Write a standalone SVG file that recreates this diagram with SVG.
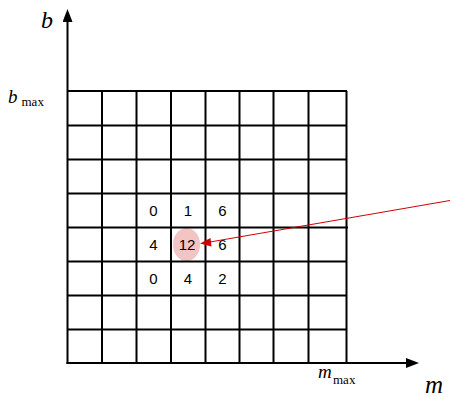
<svg xmlns="http://www.w3.org/2000/svg" width="450" height="397" viewBox="0 0 450 397">
<style>
.grid line{stroke:#000;stroke-width:2}
.axis{stroke:#000;stroke-width:2;fill:none}
.num{font-family:"Liberation Sans",Arial,sans-serif;font-size:15px;text-anchor:middle;fill:#000}
.it{font-family:"Liberation Serif","Times New Roman",serif;font-style:italic;fill:#000}
.rm{font-family:"Liberation Serif","Times New Roman",serif;fill:#000}
</style>
<defs>
<marker id="ah" markerWidth="13" markerHeight="10" refX="1" refY="5" orient="auto" markerUnits="userSpaceOnUse">
<path d="M0,0 L13,5 L0,10 Z" fill="#000"/>
</marker>
</defs>
<rect width="450" height="397" fill="#fff"/>
<g id="highlight"><ellipse cx="186.5" cy="244.5" rx="13.5" ry="16.5" fill="#f2c4c4"/></g>
<g id="grid" class="grid">
<line x1="67.5" y1="91" x2="347" y2="91"/>
<line x1="67.5" y1="125.5" x2="347" y2="125.5"/>
<line x1="67.5" y1="159.5" x2="347" y2="159.5"/>
<line x1="67.5" y1="193.5" x2="347" y2="193.5"/>
<line x1="67.5" y1="227.5" x2="348" y2="227.5"/>
<line x1="67.5" y1="261.5" x2="347" y2="261.5"/>
<line x1="67.5" y1="295.5" x2="347" y2="295.5"/>
<line x1="67.5" y1="329.5" x2="347" y2="329.5"/>
<line x1="102" y1="91" x2="102" y2="363"/>
<line x1="136.5" y1="91" x2="136.5" y2="363"/>
<line x1="171" y1="91" x2="171" y2="363"/>
<line x1="205.5" y1="91" x2="205.5" y2="363"/>
<line x1="239.5" y1="91" x2="239.5" y2="363"/>
<line x1="273.5" y1="91" x2="273.5" y2="363"/>
<line x1="308.5" y1="91" x2="308.5" y2="363"/>
<line x1="346.5" y1="91" x2="346.5" y2="363"/>
</g>
<g id="axes">
<path class="axis" d="M67.5,364 L67.5,21" marker-end="url(#ah)"/>
<path class="axis" d="M66.5,363 L407,363" marker-end="url(#ah)"/>
</g>
<g id="values">
<text class="num" x="153.5" y="216">0</text>
<text class="num" x="188" y="216">1</text>
<text class="num" x="222.5" y="216">6</text>
<text class="num" x="153.5" y="250">4</text>
<text class="num" x="187" y="250">12</text>
<text class="num" x="222.5" y="250">6</text>
<text class="num" x="153.5" y="284">0</text>
<text class="num" x="188" y="284">4</text>
<text class="num" x="222.5" y="284">2</text>
</g>
<g id="connectors">
<line x1="450" y1="200.5" x2="210" y2="242" stroke="#d00000" stroke-width="1"/>
<path d="M200,243.5 L210.5,238 L211.5,246.5 Z" fill="#d00000"/>
</g>
<g id="labels">
<text class="it" x="41" y="28" font-size="24">b</text>
<text class="it" x="8" y="103" font-size="19">b</text>
<text class="rm" x="21.5" y="106" font-size="13">max</text>
<text class="it" x="318" y="378" font-size="19">m</text>
<text class="rm" x="333" y="384" font-size="13">max</text>
<text class="it" x="425" y="393" font-size="25">m</text>
</g>
</svg>
